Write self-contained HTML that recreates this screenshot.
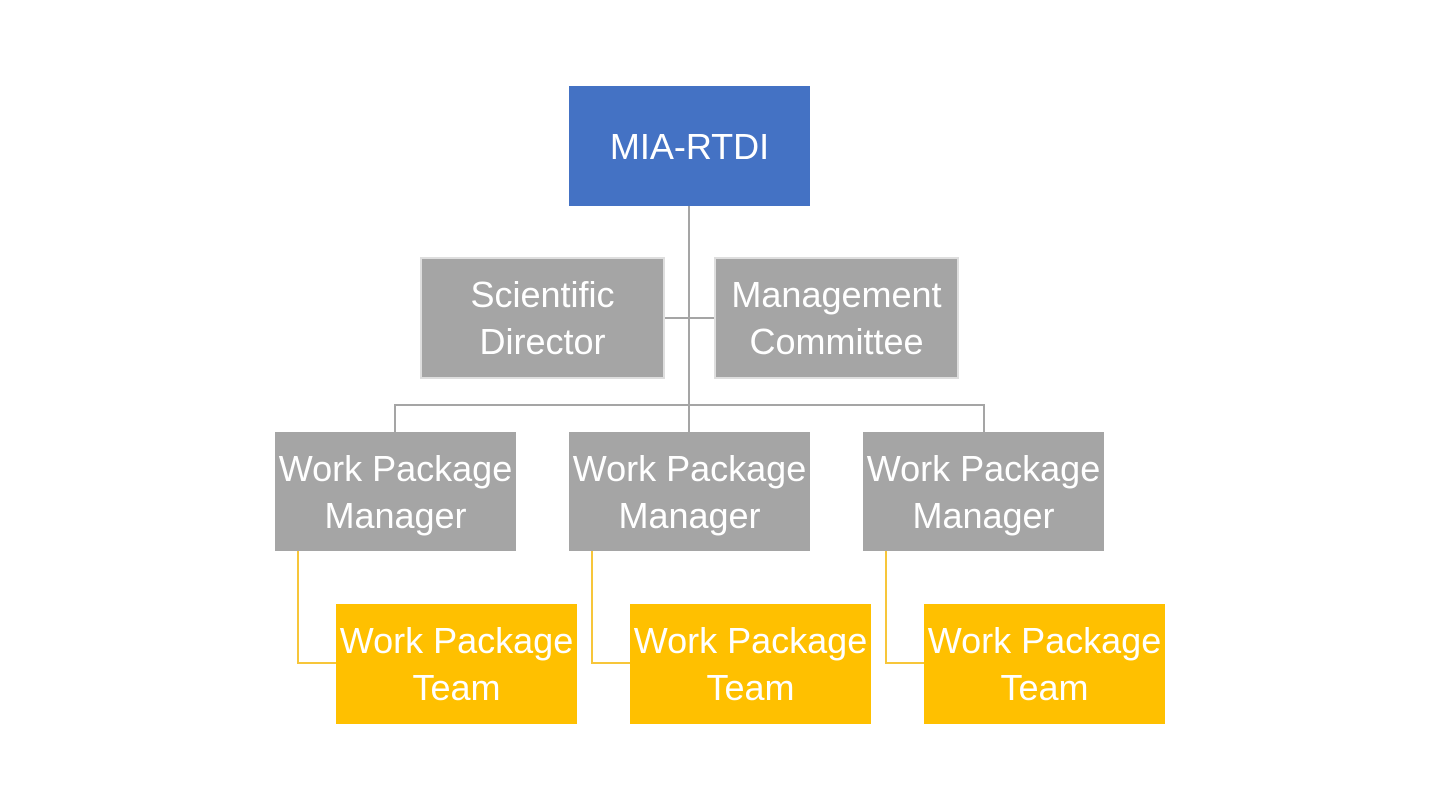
<!DOCTYPE html>
<html>
<head>
<meta charset="utf-8">
<style>
  html, body { margin: 0; padding: 0; }
  body { width: 1440px; height: 810px; background: #ffffff; position: relative; overflow: hidden;
         font-family: "Liberation Sans", Arial, sans-serif; }
  .box { position: absolute; box-sizing: border-box; display: flex; align-items: center; justify-content: center;
         text-align: center; color: #ffffff; font-size: 36px; line-height: 47px; white-space: nowrap; }
  .blue { background: #4472C4; }
  .gray { background: #A5A5A5; }
  .grayb { background: #A5A5A5; border: 2px solid #DEDEDE; }
  .yellow { background: #FFC000; }
  .ln { position: absolute; background: #A5A5A5; }
  .yl { position: absolute; background: #F7C63A; }
</style>
</head>
<body>
  <!-- gray connectors -->
  <div class="ln" style="left:688px; top:206px; width:2px; height:226px;"></div>
  <div class="ln" style="left:665px; top:317px; width:49px; height:2px;"></div>
  <div class="ln" style="left:394px; top:404px; width:591px; height:2px;"></div>
  <div class="ln" style="left:394px; top:404px; width:2px; height:28px;"></div>
  <div class="ln" style="left:983px; top:404px; width:2px; height:28px;"></div>

  <!-- yellow connectors -->
  <div class="yl" style="left:297px; top:551px; width:2px; height:113px;"></div>
  <div class="yl" style="left:297px; top:662px; width:39px; height:2px;"></div>
  <div class="yl" style="left:591px; top:551px; width:2px; height:113px;"></div>
  <div class="yl" style="left:591px; top:662px; width:39px; height:2px;"></div>
  <div class="yl" style="left:885px; top:551px; width:2px; height:113px;"></div>
  <div class="yl" style="left:885px; top:662px; width:39px; height:2px;"></div>

  <!-- top -->
  <div class="box blue" style="left:569px; top:86px; width:241px; height:120px;">MIA-RTDI</div>

  <!-- assistants -->
  <div class="box grayb" style="left:420px; top:257px; width:245px; height:122px;">Scientific<br>Director</div>
  <div class="box grayb" style="left:714px; top:257px; width:245px; height:122px;">Management<br>Committee</div>

  <!-- managers -->
  <div class="box gray" style="left:275px; top:432px; width:241px; height:119px;">Work Package<br>Manager</div>
  <div class="box gray" style="left:569px; top:432px; width:241px; height:119px;">Work Package<br>Manager</div>
  <div class="box gray" style="left:863px; top:432px; width:241px; height:119px;">Work Package<br>Manager</div>

  <!-- teams -->
  <div class="box yellow" style="left:336px; top:604px; width:241px; height:120px;">Work Package<br>Team</div>
  <div class="box yellow" style="left:630px; top:604px; width:241px; height:120px;">Work Package<br>Team</div>
  <div class="box yellow" style="left:924px; top:604px; width:241px; height:120px;">Work Package<br>Team</div>
</body>
</html>
